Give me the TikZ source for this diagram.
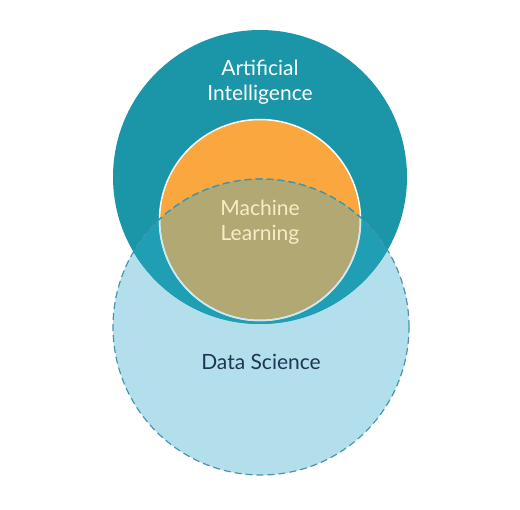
\documentclass[tikz,border=0pt]{standalone}
\usepackage{fontspec}
\setmainfont{Lato}
\usetikzlibrary{positioning}

\definecolor{aiTeal}{HTML}{1A96A8}
\definecolor{aiDs}{HTML}{209FB4}
\definecolor{dsBlue}{HTML}{B3DFEC}
\definecolor{dsLine}{HTML}{4A94AE}
\definecolor{mlOrange}{HTML}{F9A73E}
\definecolor{mlDs}{HTML}{B2A874}
\definecolor{mlText}{HTML}{F6EDC6}
\definecolor{dsText}{HTML}{1E3554}

\tikzset{
    venn label/.style={font=\fontsize{21}{24.5}\selectfont, align=center},
    ds border/.style={dash pattern=on 7pt off 4pt, line width=1.2pt},
}

\begin{document}
\begin{tikzpicture}[x=1pt, y=-1pt]
    \useasboundingbox (0,0) rectangle (520,510);

    % data science, behind everything
    \fill[dsBlue] (261,327) circle [radius=148pt];

    % artificial intelligence
    \fill[aiTeal] (260,177) circle [radius=147pt];
    \begin{scope}
        \clip (261,327) circle [radius=148pt];
        \fill[aiDs] (260,177) circle [radius=147pt];
    \end{scope}

    % machine learning
    \fill[mlOrange] (260,220) circle [radius=100.5pt];
    \begin{scope}
        \clip (261,327) circle [radius=148pt];
        \fill[mlDs] (260,220) circle [radius=100.5pt];
    \end{scope}
    \draw[white, line width=1.5pt] (260,220) circle [radius=100.5pt];
    \begin{scope}
        \clip (261,327) circle [radius=148pt];
        \draw[dsBlue!70!white, line width=1.5pt] (260,220) circle [radius=100.5pt];
    \end{scope}

    % dashed border of data science
    \draw[ds border, dsLine] (261,327) circle [radius=148pt];
    \begin{scope}
        \clip (260,177) circle [radius=147pt];
        \draw[ds border, dsLine!60!aiDs] (261,327) circle [radius=148pt];
    \end{scope}

    \node[venn label, text=white] (ai) at (260,82) {Artificial\\Intelligence};
    \node[venn label, text=mlText] (ml) at (260,222) {Machine\\Learning};
    \node[venn label, text=dsText] (ds) at (261,362) {Data Science};
\end{tikzpicture}
\end{document}
